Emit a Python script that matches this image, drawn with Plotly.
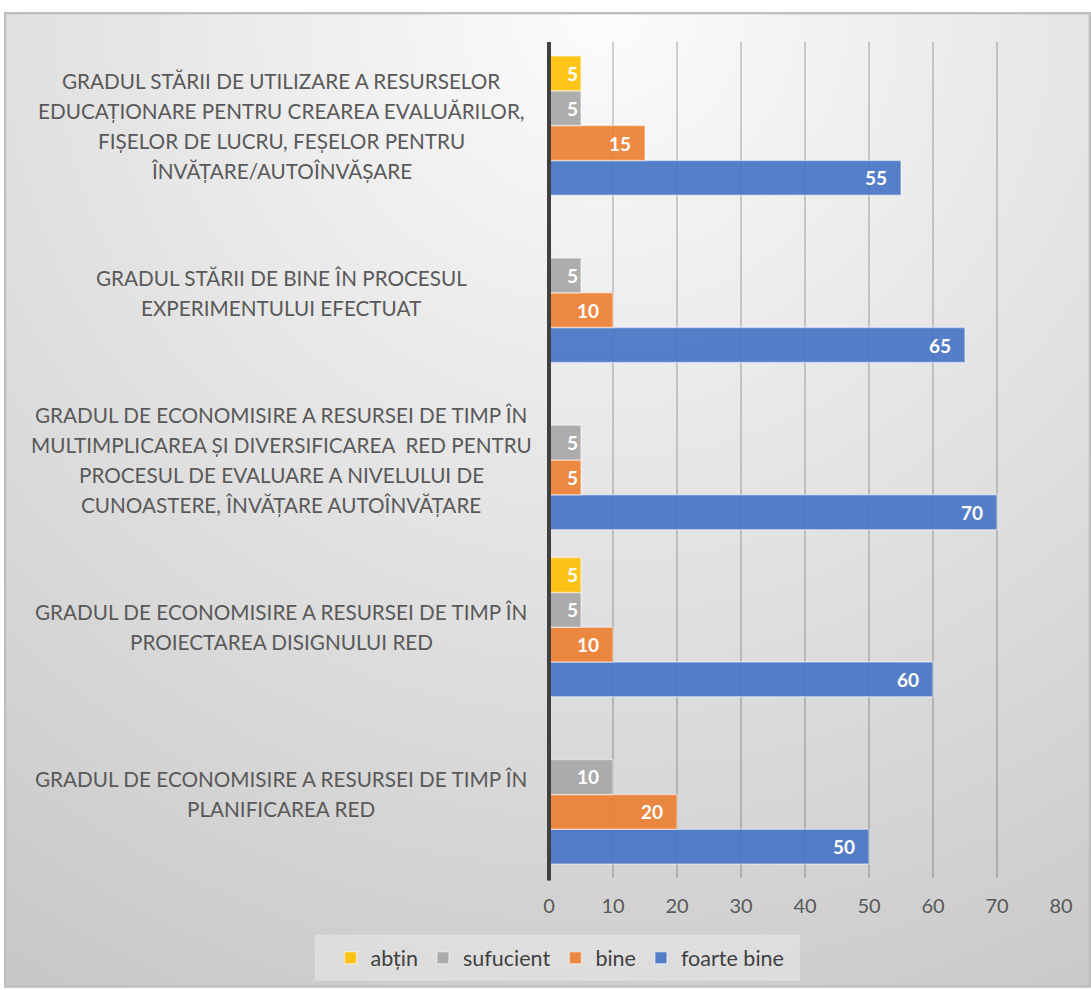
import base64
import plotly.graph_objects as go

categories = [
    "GRADUL DE ECONOMISIRE A RESURSEI DE TIMP ÎN<br>PLANIFICAREA RED",
    "GRADUL DE ECONOMISIRE A RESURSEI DE TIMP ÎN<br>PROIECTAREA DISIGNULUI RED",
    "GRADUL DE ECONOMISIRE A RESURSEI DE TIMP ÎN<br>MULTIMPLICAREA ȘI DIVERSIFICAREA  RED PENTRU<br>PROCESUL DE EVALUARE A NIVELULUI DE<br>CUNOASTERE, ÎNVĂȚARE AUTOÎNVĂȚARE",
    "GRADUL STĂRII DE BINE ÎN PROCESUL<br>EXPERIMENTULUI EFECTUAT",
    "GRADUL STĂRII DE UTILIZARE A RESURSELOR<br>EDUCAȚIONARE PENTRU CREAREA EVALUĂRILOR,<br>FIȘELOR DE LUCRU, FEȘELOR PENTRU<br>ÎNVĂȚARE/AUTOÎNVĂȘARE",
]
series_names = ["foarte bine", "bine", "sufucient", "abțin"]
foarte_bine = [50, 60, 70, 65, 55]
bine = [20, 10, 5, 10, 15]
sufucient = [10, 5, 5, 5, 5]
abtin = [None, 5, None, None, 5]
x_ticks = [0, 10, 20, 30, 40, 50, 60, 70, 80]

series_values = [foarte_bine, bine, sufucient, abtin]
colors = ["rgba(68,114,196,0.9)", "rgba(237,125,49,0.9)",
          "rgba(165,165,165,0.9)", "rgba(255,192,0,0.9)"]

FONT = "Lato"
W, H = 1091, 990
L, R, T, B = 549, 30, 42, 110
pw, ph = W - L - R, H - T - B


def px_x(p):
    return (p - L) / pw


def px_y(p):
    return (H - B - p) / ph


def label(v):
    if v is None:
        return ""
    return f"{v}\u2007" if v >= 10 else f"{v}"


fig = go.Figure()
for name, vals, col in zip(series_names, series_values, colors):
    fig.add_trace(go.Bar(
        y=categories, x=vals, name=name, orientation="h",
        marker=dict(color=col, line=dict(color="rgba(255,255,255,0.45)", width=1.5)),
        text=[label(v) for v in vals],
        textposition="inside", insidetextanchor="end",
        textfont=dict(family=FONT, size=19, color="white", weight="bold"),
        cliponaxis=False,
    ))

# background frame with radial gradient
fw, fh = 1087, 978
svg = f'''<svg xmlns="http://www.w3.org/2000/svg" width="{fw}" height="{fh}" viewBox="0 0 {fw} {fh}" preserveAspectRatio="none">
<defs><radialGradient id="g" gradientUnits="userSpaceOnUse" cx="600" cy="0" r="1117">
<stop offset="0" stop-color="#fcfcfc"/><stop offset="0.48" stop-color="#e3e3e3"/>
<stop offset="0.85" stop-color="#d0d0d0"/><stop offset="1" stop-color="#c8c8c8"/>
</radialGradient></defs>
<rect x="1" y="1" width="{fw-2}" height="{fh-2}" fill="url(#g)" stroke="#bdbdbd" stroke-width="2.5"/>
</svg>'''
src = "data:image/svg+xml;base64," + base64.b64encode(svg.encode()).decode()
fig.add_layout_image(dict(source=src, xref="paper", yref="paper", x=px_x(4), y=px_y(12),
                          sizex=fw / pw, sizey=fh / ph, sizing="stretch",
                          xanchor="left", yanchor="top", layer="below"))

# legend box
fig.add_shape(type="rect", xref="paper", yref="paper", x0=px_x(315), x1=px_x(800),
              y0=px_y(983), y1=px_y(937), fillcolor="rgba(255,255,255,0.3)",
              line=dict(width=0), layer="below")

# category labels (centered, multi-line)
line_gap = 30
cx = px_x(281)
for cat in categories:
    lines = cat.split("<br>")
    n = len(lines)
    for i, ln in enumerate(lines):
        fig.add_annotation(x=cx, xref="paper", y=cat, yref="y", text=ln,
                           showarrow=False, xanchor="center", yanchor="middle",
                           yshift=((n - 1) / 2 - i) * line_gap,
                           font=dict(family=FONT, size=20.7, color="#595959"))

fig.update_layout(
    width=W, height=H, margin=dict(l=L, r=R, t=T, b=B),
    paper_bgcolor="white", plot_bgcolor="rgba(0,0,0,0)",
    barmode="group", bargap=0.167, bargroupgap=0.0,
    uniformtext=dict(minsize=19, mode="show"),
    showlegend=True,
    legend=dict(orientation="h", traceorder="reversed", x=px_x(560), xanchor="center",
                y=px_y(960), yanchor="middle",
                bgcolor="rgba(0,0,0,0)", borderwidth=0,
                font=dict(family=FONT, size=21.5, color="#404040"),
                itemwidth=30),
    xaxis=dict(range=[0, 80], tickvals=x_ticks, showgrid=True,
               gridcolor="rgba(0,0,0,0.17)", gridwidth=1.5,
               zeroline=False, showline=False, ticks="",
               ticklabelstandoff=14,
               tickfont=dict(family=FONT, size=20, color="#595959")),
    yaxis=dict(showticklabels=False, showgrid=False, zeroline=False,
               showline=False, ticks=""),
)
# zero axis line (paper-referenced so it is not clipped by the plot area)
fig.add_shape(type="line", xref="paper", yref="paper", x0=0, x1=0, y0=-0.003, y1=1,
              line=dict(color="#404040", width=4), layer="above")

fig.write_html("out.html")
